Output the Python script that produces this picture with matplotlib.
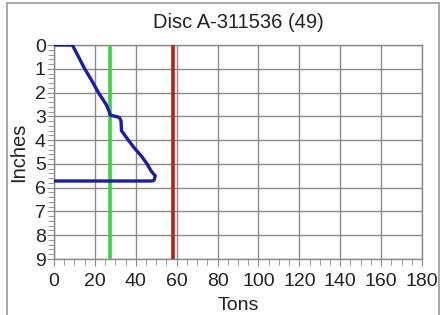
import matplotlib
matplotlib.use("Agg")
import matplotlib.pyplot as plt
from matplotlib.patches import Rectangle
from matplotlib.ticker import MultipleLocator

# blue load curve: tons vs depth (inches)
tons = [0, 9, 12, 15, 18.5, 21.7, 25.5, 27, 27.5, 30, 32, 32.8, 33, 35.5, 39, 43, 45.5, 47.5, 49.5, 49, 48, 0]
depth = [0, 0, 0.5, 1.0, 1.5, 2.0, 2.5, 2.8, 2.95, 3.0, 3.05, 3.2, 3.6, 3.9, 4.3, 4.7, 5.0, 5.3, 5.5, 5.68, 5.72, 5.72]

green_limit = 27.5
red_limit = 58
title = "Disc A-311536 (49)"

plt.rcParams["font.family"] = ["Liberation Sans", "DejaVu Sans"]

W, H = 442, 315
fig = plt.figure(figsize=(W / 100, H / 100), dpi=100)
fig.patch.set_facecolor("white")

# outer group box
fig.add_artist(Rectangle((7 / W, -0.05), (439 - 7) / W, 1.05 - 3 / H,
                         transform=fig.transFigure, fill=False,
                         edgecolor="#9a9a9a", linewidth=1.2))

ax_w, ax_h = 422 - 54, 259 - 45
ax = fig.add_axes([54 / W, 1 - 259 / H, ax_w / W, ax_h / H])
ax.plot(tons, depth, color="#1c1ca8", linewidth=2.4, zorder=4, solid_joinstyle="round")
ax.axvline(green_limit, color="#3fd23f", linewidth=2.6, zorder=3)
ax.axvline(red_limit, color="#b52020", linewidth=2.6, zorder=3)

ax.set_xlim(0, 180)
ax.set_ylim(9, 0)
ax.xaxis.set_major_locator(MultipleLocator(20))
ax.xaxis.set_minor_locator(MultipleLocator(5))
ax.yaxis.set_major_locator(MultipleLocator(1))
ax.yaxis.set_minor_locator(MultipleLocator(0.2))
ax.grid(True, which="major", color="#8a8a8a", linewidth=1.0)
ax.set_axisbelow(True)

for s in ax.spines.values():
    s.set_color("#8a8a8a")
    s.set_linewidth(1.0)

ax.tick_params(which="both", colors="#8a8a8a", labelcolor="#222222", labelsize=14)
ax.tick_params(which="major", length=5)
ax.tick_params(axis="x", which="major", pad=5)
ax.tick_params(axis="y", which="major", pad=1)
ax.tick_params(which="minor", length=4)

ax.set_title(title, fontsize=14.5, color="#222222", pad=12)
ax.set_xlabel("Tons", fontsize=14, color="#222222", va="center")
ax.xaxis.set_label_coords(0.5, -(305 - 259) / ax_h)
ax.set_ylabel("Inches", fontsize=14.5, color="#222222", va="center")
ax.yaxis.set_label_coords(-(54 - 19) / ax_w, 0.5)

plt.savefig("out.png", dpi=100)
plt.close()
